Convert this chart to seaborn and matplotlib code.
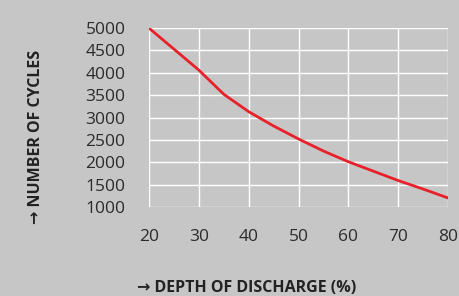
import pandas as pd
import matplotlib
matplotlib.use('Agg')
import matplotlib.pyplot as plt
import seaborn as sns

# Values
depth = [20, 25, 30, 35, 40, 45, 50, 55, 60, 65, 70, 75, 80]
cycles = [5000, 4530, 4060, 3520, 3130, 2810, 2520, 2250, 2010, 1800, 1590, 1400, 1200]
x_ticks = [20, 30, 40, 50, 60, 70, 80]
y_ticks = [1000, 1500, 2000, 2500, 3000, 3500, 4000, 4500, 5000]

data = pd.DataFrame({'depth': depth, 'cycles': cycles})

bg = '#c6c6c6'
sns.set_style('white')
plt.rcParams['font.family'] = ['Open Sans', 'DejaVu Sans']

fig = plt.figure(figsize=(4.6, 2.96), dpi=100, facecolor=bg)
ax = fig.add_axes([0.324, 0.301, 0.650, 0.604])
ax.set_facecolor(bg)

sns.lineplot(data=data, x='depth', y='cycles', color='#e8202a', linewidth=2, ax=ax)

ax.set_xlim(20, 80)
ax.set_ylim(1000, 5000)
ax.set_xticks(x_ticks)
ax.set_yticks(y_ticks)
ax.grid(True, color='white', linewidth=1)
for s in ax.spines.values():
    s.set_visible(False)
ax.tick_params(length=0, labelsize=12.5, labelcolor='#2b2b2b')
ax.tick_params(axis='y', pad=17)
ax.tick_params(axis='x', pad=16)

ax.set_xlabel('→ DEPTH OF DISCHARGE (%)', fontsize=11.5, fontweight='bold',
              color='#222222')
ax.xaxis.set_label_coords(0.328, -0.41)
ax.set_ylabel('→ NUMBER OF CYCLES', fontsize=11.5, fontweight='bold',
              color='#222222')
ax.yaxis.set_label_coords(-0.35, 0.39)

fig.savefig('out.png', dpi=100, facecolor=bg)
